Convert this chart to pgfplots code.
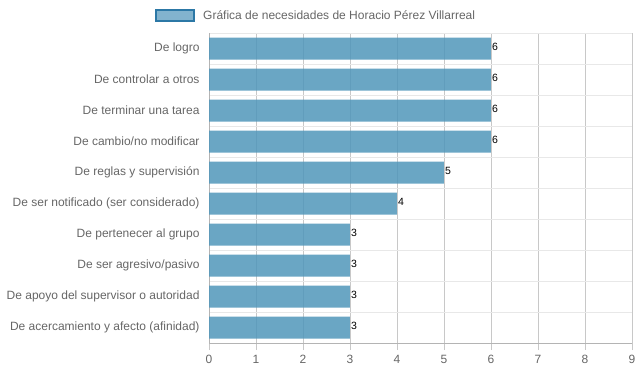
\documentclass[border=0pt]{standalone}
\usepackage{pgfplots}
\pgfplotsset{compat=1.18}
\usepackage{fontspec}
\setmainfont{Liberation Sans}
\definecolor{txt}{HTML}{666666}
\definecolor{barc}{RGB}{80,150,186}
\definecolor{legfill}{RGB}{108,166,198}
\definecolor{legdraw}{RGB}{44,120,166}
\definecolor{vgrid}{RGB}{200,200,200}
\definecolor{hgrid}{RGB}{232,232,232}
\begin{document}
\begin{tikzpicture}
\useasboundingbox (0,0) rectangle (639pt,372pt);
\begin{axis}[
  at={(209pt,29pt)}, anchor=south west,
  width=423pt, height=310pt, scale only axis,
  xbar, bar width=22pt,
  xmin=0, xmax=9, xtick={0,...,9},
  ymin=-0.5, ymax=9.5, y dir=reverse,
  ytick={0,...,9},
  yticklabels={De logro, De controlar a otros, De terminar una tarea, De cambio/no modificar, De reglas y supervisión, De ser notificado (ser considerado), De pertenecer al grupo, De ser agresivo/pasivo, De apoyo del supervisor o autoridad, De acercamiento y afecto (afinidad)},
  minor ytick={-0.5,0.5,...,9.5},
  axis x line*=bottom, axis y line*=left,
  axis line style={draw=vgrid!90!black, line width=0.8pt},
  xmajorgrids, yminorgrids,
  major grid style={draw=vgrid, line width=0.8pt},
  minor grid style={draw=hgrid, line width=0.8pt},
  tick align=outside,
  xtick style={draw=vgrid, line width=0.8pt},
  major tick length=7pt,
  ytick style={draw=none},
  minor tick length=8pt,
  minor tick style={draw=hgrid, line width=0.8pt},
  /pgf/number format/assume math mode=true,
  ticklabel style={font=\fontsize{12}{14}\selectfont, text=txt},
  yticklabel style={xshift=1pt},
  xticklabel style={yshift=-2pt},
  point meta=x,
  nodes near coords,
  nodes near coords style={anchor=west, yshift=2pt, font=\fontsize{10.5}{13}\selectfont, text=black, inner sep=1pt, /pgf/number format/fixed, /pgf/number format/precision=0},
  legend style={at={(axis description cs:-0.1277,1.055)}, anchor=west, draw=none, fill=none, inner sep=0pt, font=\fontsize{12}{14}\selectfont, text=txt, legend cell align=left, nodes={inner xsep=8pt}},
  legend image code/.code={\draw[fill=legfill, draw=legdraw, line width=2pt] (1pt,-5.5pt) rectangle (39pt,5.5pt);},
]
\addplot[fill=barc, fill opacity=0.85, draw=none, text opacity=1] coordinates {
(6,0) (6,1) (6,2) (6,3) (5,4) (4,5) (3,6) (3,7) (3,8) (3,9)};
\addlegendentry{Gráfica de necesidades de Horacio Pérez Villarreal}
\end{axis}
\end{tikzpicture}
\end{document}
